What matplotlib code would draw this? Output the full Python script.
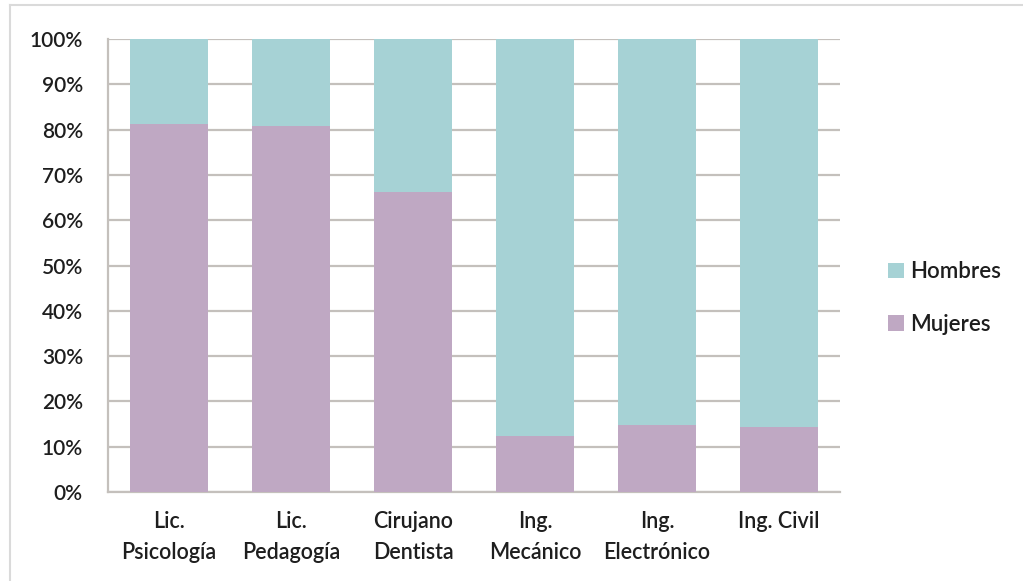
import matplotlib
matplotlib.use("Agg")
import matplotlib.pyplot as plt
from matplotlib.patches import Patch
from matplotlib.lines import Line2D
import numpy as np

carreras = ["Lic.\nPsicología", "Lic.\nPedagogía", "Cirujano\nDentista",
            "Ing.\nMecánico", "Ing.\nElectrónico", "Ing. Civil"]
mujeres = [81.2, 80.8, 66.2, 12.4, 14.7, 14.3]
hombres = [100 - m for m in mujeres]
y_ticks = [0, 10, 20, 30, 40, 50, 60, 70, 80, 90, 100]

col_h = "#A6D2D5"
col_m = "#BFA8C3"
grid_col = "#C4C0BC"
text_col = "#1E1E1E"
fs = 15.5

plt.rcParams["font.family"] = ["Lato", "DejaVu Sans"]
plt.rcParams["font.weight"] = "semibold"

fig = plt.figure(figsize=(10.23, 5.81), dpi=100)
W, H = 1023, 581
ax = fig.add_axes([108 / W, 1 - 492 / H, (840 - 108) / W, (492 - 39) / H])

x = np.arange(len(carreras))
ax.bar(x, mujeres, width=0.64, color=col_m, zorder=3)
ax.bar(x, hombres, width=0.64, bottom=mujeres, color=col_h, zorder=3)

ax.set_xlim(-0.5, len(carreras) - 0.5)
ax.set_ylim(0, 100)
ax.set_yticks(y_ticks)
ax.set_yticklabels([f"{t}%" for t in y_ticks], fontsize=15)
ax.yaxis.grid(True, color=grid_col, linewidth=1.6, zorder=0)
ax.set_axisbelow(True)

ax.set_xticks(x)
ax.set_xticklabels(carreras, linespacing=1.58, va="top", fontsize=fs)

for s in ["top", "right"]:
    ax.spines[s].set_visible(False)
for s in ["left", "bottom"]:
    ax.spines[s].set_color(grid_col)
    ax.spines[s].set_linewidth(1.6)

ax.tick_params(axis="y", length=0, pad=18, labelcolor=text_col)
ax.tick_params(axis="x", length=0, pad=14, labelcolor=text_col)

handles = [Patch(facecolor=col_h, edgecolor="none", label="Hombres"),
           Patch(facecolor=col_m, edgecolor="none", label="Mujeres")]
fig.legend(handles=handles, loc="center left",
           bbox_to_anchor=(868 / W, 1 - 298 / H), frameon=False,
           handlelength=0.7, handleheight=0.7, handletextpad=0.3,
           labelspacing=1.4, fontsize=fs + 0.5, labelcolor=text_col)

# outer chart frame (top and left edges)
fig.add_artist(Line2D([10 / W, 1], [1 - 5 / H, 1 - 5 / H],
                      transform=fig.transFigure, color="#DADADA", linewidth=1.5))
fig.add_artist(Line2D([10 / W, 10 / W], [0, 1 - 5 / H],
                      transform=fig.transFigure, color="#DADADA", linewidth=1.5))

fig.savefig("out.png", dpi=100)
